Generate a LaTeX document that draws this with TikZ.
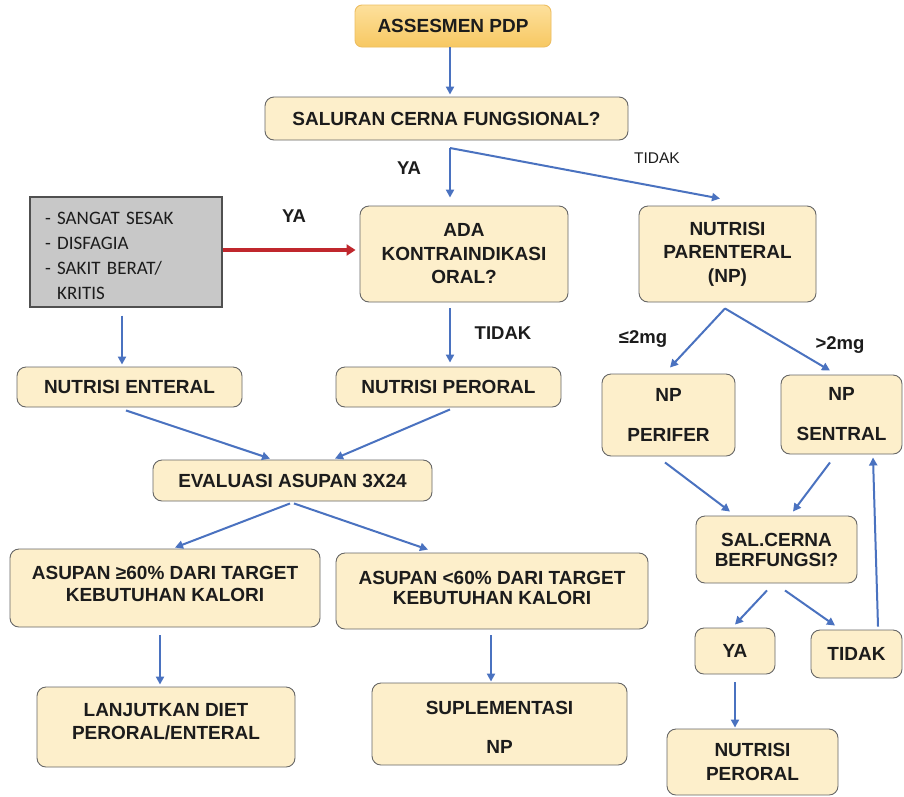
\documentclass[tikz,border=0pt]{standalone}
\usepackage{fontspec}
\setmainfont{Liberation Sans}
\newfontfamily\calib{Carlito}
\usetikzlibrary{arrows.meta,shadings}
\definecolor{cream}{HTML}{FDEFCB}
\definecolor{bord}{HTML}{666666}
\definecolor{gold1}{HTML}{FDE09C}
\definecolor{gold2}{HTML}{F7C862}
\definecolor{goldb}{HTML}{EDBE62}
\definecolor{greyfill}{HTML}{C8C8C8}
\definecolor{greyb}{HTML}{505050}
\definecolor{arrblue}{HTML}{4A72C0}
\definecolor{arrred}{HTML}{C0272D}
\definecolor{txt}{HTML}{1C1C1C}
\newcommand\strutup[1]{\rule{0pt}{#1}}
\newcommand\strutdn[1]{\rule[-#1]{0pt}{#1}}
\begin{document}
\begin{tikzpicture}[x=1pt,y=-1pt,
 box/.style={draw=bord, line width=0.9pt, fill=cream, rounded corners=9pt, align=center, text=txt, font=\bfseries\fontsize{19}{23.5}\selectfont, inner sep=0pt},
 arr/.style={draw=arrblue, line width=2pt, -{Triangle[length=8pt,width=8pt]}},
 redarr/.style={draw=arrred, line width=4pt, -{Triangle[length=9pt,width=11pt]}},
 lbl/.style={text=txt, font=\bfseries\fontsize{18.5}{20}\selectfont, inner sep=0pt},
 lblthin/.style={text=txt, font=\fontsize{15.5}{18}\selectfont, inner sep=0pt}]
\fill[white] (0,0) rectangle (904,796);
\useasboundingbox (0,0) rectangle (904,796);

% boxes
\node[box, minimum width=196pt, minimum height=42pt, top color=gold1, bottom color=gold2, draw=goldb, rounded corners=7pt] (assess) at (453,26) {ASSESMEN PDP};
\node[box, minimum width=363pt, minimum height=43pt] (sal) at (446.5,118.5) {SALURAN CERNA FUNGSIONAL?};
\node[box, minimum width=208pt, minimum height=96pt] (ada) at (464,254) {ADA\\KONTRAINDIKASI\\ORAL?};
\node[box, minimum width=177pt, minimum height=96pt] (npar) at (727.5,254) {NUTRISI\\PARENTERAL\\(NP)};
\node[draw=greyb, line width=1.2pt, fill=greyfill, minimum width=192pt, minimum height=110pt, text width=162pt, inner xsep=15pt, inner ysep=0pt, align=left, font=\calib\fontsize{19}{25}\selectfont, text=txt] (gray) at (126,252) {\strutup{19.5pt}- SANGAT SESAK\\- DISFAGIA\\- SAKIT BERAT/\\\phantom{- }KRITIS};
\node[box, minimum width=225pt, minimum height=40pt] (nent) at (129.5,387) {NUTRISI ENTERAL};
\node[box, minimum width=225pt, minimum height=40pt] (nper) at (448.5,387) {NUTRISI PERORAL};
\node[box, minimum width=279pt, minimum height=41pt] (eval) at (292.5,480.5) {EVALUASI ASUPAN 3X24};
\node[box, minimum width=133pt, minimum height=82pt] (npp) at (668.5,415) {NP\\[16.5pt]PERIFER};
\node[box, minimum width=121pt, minimum height=79pt] (nps) at (841.5,414.5) {NP\\[16.5pt]SENTRAL};
\node[box, minimum width=310pt, minimum height=78pt] (asu1) at (165,588) {ASUPAN ≥60\% DARI TARGET\\[-1.5pt]KEBUTUHAN KALORI\strutdn{8pt}};
\node[box, minimum width=312pt, minimum height=76pt] (asu2) at (492,591) {ASUPAN <60\% DARI TARGET\\[-3.5pt]KEBUTUHAN KALORI\strutdn{6pt}};
\node[box, minimum width=258pt, minimum height=80pt] (lanj) at (166,727) {LANJUTKAN DIET\\PERORAL/ENTERAL\strutdn{11pt}};
\node[box, minimum width=255pt, minimum height=82pt] (supl) at (499.5,724) {\strutup{20.6pt}SUPLEMENTASI\\[15.5pt]NP};
\node[box, minimum width=161pt, minimum height=67pt] (salc) at (776.5,549.5) {SAL.CERNA\\[-3.5pt]BERFUNGSI?};
\node[box, minimum width=80pt, minimum height=46pt] (ya) at (735,651) {YA};
\node[box, minimum width=91pt, minimum height=48pt] (tidak) at (856.5,654) {TIDAK};
\node[box, minimum width=171pt, minimum height=66pt] (nper2) at (752.5,762) {NUTRISI\\PERORAL};

% labels
\node[lbl] (lya1) at (409,168) {YA};
\node[lblthin] (ltid1) at (657,158) {TIDAK};
\node[lbl] (lya2) at (294,216) {YA};
\node[lbl] (ltid2) at (503,333) {TIDAK};
\node[lbl] (lle) at (643,339) {≤2mg};
\node[lbl] (lgt) at (840,345) {>2mg};

% connectors
\coordinate (j1) at (450,148);
\draw[arr] ([shift={(-3,0)}]assess.south) -- ([shift={(3.5,-2)}]sal.north);
\draw[arr] (j1) -- ([shift={(-14,-8)}]ada.north);
\draw[arr] (j1) -- ([shift={(-7.5,-7)}]npar.north);
\draw[redarr] ([shift={(0,-2)}]gray.east) -- ([shift={(-4,-4)}]ada.west);
\draw[arr] ([shift={(-4,8)}]gray.south) -- ([shift={(-7.5,-2)}]nent.north);
\draw[arr] ([shift={(-14,6)}]ada.south) -- ([shift={(1.5,-4)}]nper.north);
\draw[arr] ([shift={(-2.5,6)}]npar.south) -- ([shift={(1.5,-6)}]npp.north);
\draw[arr] ([shift={(-2.5,6)}]npar.south) -- ([shift={(-11.5,-4)}]nps.north);
\draw[arr] ([shift={(-3.5,3)}]nent.south) -- ([shift={(-22.5,-1)}]eval.north);
\draw[arr] ([shift={(1.5,2)}]nper.south) -- ([shift={(42.5,-1)}]eval.north);
\draw[arr] ([shift={(-2.5,2)}]eval.south) -- ([shift={(10,-1)}]asu1.north);
\draw[arr] ([shift={(1.5,2)}]eval.south) -- ([shift={(-64,-3)}]asu2.north);
\draw[arr] ([shift={(-5,8)}]asu1.south) -- ([shift={(-6,-2)}]lanj.north);
\draw[arr] ([shift={(-1,6)}]asu2.south) -- ([shift={(-8.5,-1)}]supl.north);
\draw[arr] ([shift={(-3.5,6)}]npp.south) -- ([shift={(-46.5,-4)}]salc.north);
\draw[arr] ([shift={(-11.5,8)}]nps.south) -- ([shift={(16.5,-4)}]salc.north);
\draw[arr] ([shift={(21.5,-3)}]tidak.north) -- ([shift={(31.5,3)}]nps.south);
\draw[arr] ([shift={(-9.5,7)}]salc.south) -- ([shift={(0,-3)}]ya.north);
\draw[arr] ([shift={(8.5,7)}]salc.south) -- ([shift={(-21.5,-4)}]tidak.north);
\draw[arr] ([shift={(0,8)}]ya.south) -- ([shift={(-17.5,-1)}]nper2.north);
\end{tikzpicture}
\end{document}
